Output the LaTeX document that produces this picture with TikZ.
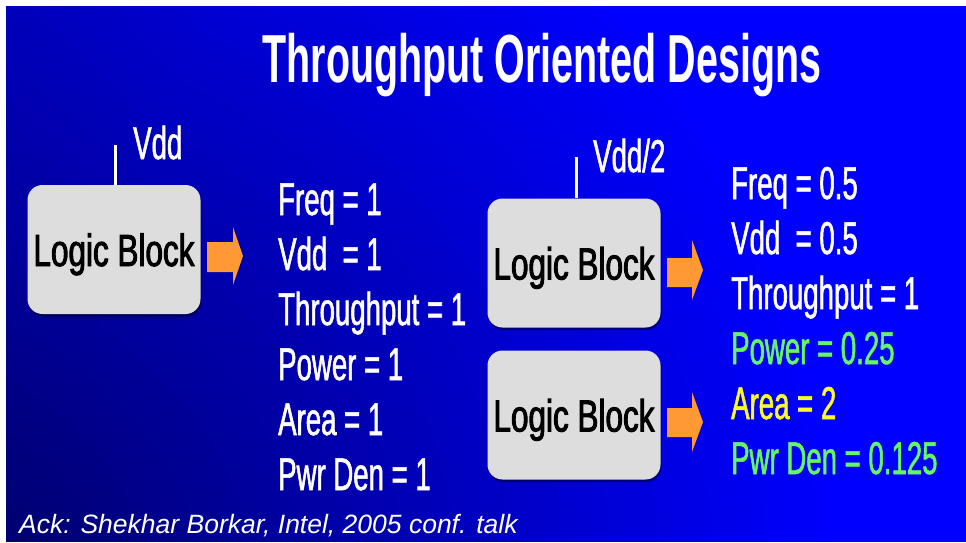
\documentclass[tikz,border=0pt]{standalone}
\usepackage{fontspec}
\setmainfont{Liberation Sans}
\newfontfamily\infofont[FakeStretch=0.6,FakeBold=1.2]{Liberation Sans}
\newfontfamily\blockfont[FakeStretch=0.7,FakeBold=2]{Liberation Sans}
\newfontfamily\titlefont[FakeStretch=0.58]{Liberation Sans}
\usetikzlibrary{fadings,shadows}
\definecolor{bgbright}{RGB}{0,0,255}
\definecolor{bgmid}{RGB}{0,0,200}
\definecolor{bgdark}{RGB}{0,0,100}
\definecolor{boxgray}{RGB}{221,221,221}
\definecolor{arroworange}{RGB}{255,153,51}
\definecolor{hlgreen}{RGB}{102,245,102}
\definecolor{hlyellow}{RGB}{250,250,40}
\pgfdeclareradialshading{bgshade}{\pgfpoint{0bp}{0bp}}{color(0bp)=(bgbright); color(14bp)=(bgbright); color(25bp)=(bgmid); color(50bp)=(bgmid)}
\tikzfading[name=darkblob, inner color=transparent!0, outer color=transparent!100]
\tikzset{
  blockbox/.style={fill=boxgray, rounded corners=15pt, minimum width=173pt, minimum height=129pt,
    inner sep=0pt, text height=33pt, text depth=0pt, text=black,
    font=\blockfont\fontsize{45}{48}\selectfont,
    drop shadow={shadow xshift=1pt, shadow yshift=-2.5pt, opacity=0.45, fill=black}},
  infotext/.style={anchor=base west, inner sep=0pt, text=white, font=\infofont\fontsize{46}{50}\selectfont},
  supply/.style={draw=white, line width=3pt},
  blockarrow/.style={fill=arroworange}
}
\begin{document}
\begin{tikzpicture}[x=1pt,y=-1pt]
\useasboundingbox (0,0) rectangle (966,542);
\fill[white] (0,0) rectangle (966,542);
\begin{scope}
  \clip (6,6) rectangle (966,541);
  \fill[bgmid] (6,6) rectangle (966,541);
  \shade[shading=bgshade] (680,330) circle (1000pt);
  \fill[bgdark, path fading=darkblob] (-60,600) circle (900pt);
\end{scope}

% title
\node[anchor=base, inner sep=0pt, text=white, font=\titlefont\bfseries\fontsize{68}{70}\selectfont] (title) at (542,82) {Throughput Oriented Designs};

% left logic block
\node[blockbox] (b1) at (114,249.5) {Logic Block};
\coordinate (v1) at (115,145);
\draw[supply] (v1) -- (v1 |- b1.north);
\node[infotext] (vdd1) at (133,159) {Vdd};
\fill[blockarrow] (207,242) -- (233,242) -- (233,227) -- (243,256) -- (233,285) -- (233,272) -- (207,272) -- cycle;

% left column
\node[infotext] (l1) at (278,215) {Freq = 1};
\node[infotext] (l2) at (278,270) {Vdd\ \ = 1};
\node[infotext] (l3) at (278,325) {Throughput = 1};
\node[infotext] (l4) at (278,380) {Power = 1};
\node[infotext] (l5) at (278,435) {Area = 1};
\node[infotext] (l6) at (278,490) {Pwr Den = 1};

% right logic blocks
\node[blockbox] (b2) at (574,263) {Logic Block};
\node[blockbox] (b3) at (574,415) {Logic Block};
\coordinate (v2) at (576,157);
\draw[supply] (v2) -- (v2 |- b2.north);
\node[infotext] (vdd2) at (593,172) {Vdd/2};
\fill[blockarrow] (667,258) -- (692,258) -- (692,240) -- (703,270) -- (692,300) -- (692,287) -- (667,287) -- cycle;
\fill[blockarrow] (667,408) -- (692,408) -- (692,392) -- (703,422) -- (692,452) -- (692,437) -- (667,437) -- cycle;

% right column
\node[infotext] (r1) at (731,199) {Freq = 0.5};
\node[infotext] (r2) at (731,254) {Vdd\ \ = 0.5};
\node[infotext] (r3) at (731,309) {Throughput = 1};
\node[infotext, text=hlgreen] (r4) at (731,364) {Power = 0.25};
\node[infotext, text=hlyellow] (r5) at (731,419) {Area = 2};
\node[infotext, text=hlgreen] (r6) at (731,474) {Pwr Den = 0.125};

% acknowledgement
\node[anchor=base west, inner sep=0pt, text=white, font=\itshape\fontsize{26.5}{28}\selectfont] (ack) at (19,533) {Ack: Shekhar Borkar, Intel, 2005 conf. talk};
\end{tikzpicture}
\end{document}
